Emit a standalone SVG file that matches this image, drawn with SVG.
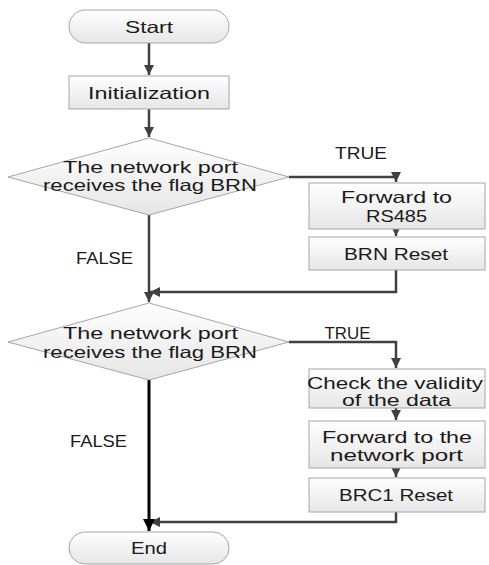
<svg xmlns="http://www.w3.org/2000/svg" width="489" height="565" viewBox="0 0 489 565">
<defs>
<linearGradient id="g" x1="0" y1="0" x2="0" y2="1">
<stop offset="0" stop-color="#ffffff"/>
<stop offset="1" stop-color="#e6e6e6"/>
</linearGradient>
<marker id="ah" viewBox="0 0 10 10" refX="10" refY="5" markerWidth="4" markerHeight="4" orient="auto" markerUnits="strokeWidth">
<path d="M0,0 L10,5 L0,10 z" fill="#404040"/>
</marker>
<marker id="ahk" viewBox="0 0 10 10" refX="10" refY="5" markerWidth="4" markerHeight="4" orient="auto" markerUnits="strokeWidth">
<path d="M0,0 L10,5 L0,10 z" fill="#000"/>
</marker>
</defs>
<style>
.s{fill:url(#g);stroke:#a6a6a6;stroke-width:1}
.t{font-family:"Liberation Sans",Arial,sans-serif;font-size:16.5px;fill:#1a1a1a;text-anchor:middle;dominant-baseline:central}
.c{fill:none;stroke:#404040;stroke-width:2.5}
.k{fill:none;stroke:#000;stroke-width:3}
</style>
<g id="connectors">
<path class="c" d="M149,43 V75" marker-end="url(#ah)"/>
<path class="c" d="M149,109 V137" marker-end="url(#ah)"/>
<path class="c" d="M289,177 H396 V182" marker-end="url(#ah)"/>
<path class="c" d="M396,229 V236" marker-end="url(#ah)"/>
<path class="c" d="M149,215 V302" marker-end="url(#ah)"/>
<path class="c" d="M396,270 V292 H150" marker-end="url(#ah)"/>
<path class="c" d="M289,342 H396 V368" marker-end="url(#ah)"/>
<path class="c" d="M396,408 V420" marker-end="url(#ah)"/>
<path class="c" d="M396,468 V477" marker-end="url(#ah)"/>
<path class="c" d="M396,512 V522 H150" marker-end="url(#ah)"/>
<path class="k" d="M149,380 V531" marker-end="url(#ahk)"/>
<text class="t" x="361" y="153" textLength="52" lengthAdjust="spacingAndGlyphs">TRUE</text>
<text class="t" x="104.5" y="258" textLength="57" lengthAdjust="spacingAndGlyphs">FALSE</text>
<text class="t" x="347.5" y="333" textLength="46" lengthAdjust="spacingAndGlyphs">TRUE</text>
<text class="t" x="98.5" y="441" textLength="57" lengthAdjust="spacingAndGlyphs">FALSE</text>
</g>
<g id="start">
<rect class="s" x="69" y="10" width="160" height="33" rx="16.5"/>
<text class="t" x="149" y="26.5" textLength="48" lengthAdjust="spacingAndGlyphs">Start</text>
</g>
<g id="init">
<rect class="s" x="69" y="76" width="160" height="33"/>
<text class="t" x="149" y="92.5" textLength="122" lengthAdjust="spacingAndGlyphs">Initialization</text>
</g>
<g id="decision1">
<polygon class="s" points="149,138 289,177 149,215 8,177"/>
<text class="t" x="150.5" y="167" textLength="175" lengthAdjust="spacingAndGlyphs">The network port</text>
<text class="t" x="150" y="185" textLength="214" lengthAdjust="spacingAndGlyphs">receives the flag BRN</text>
</g>
<g id="fwd485">
<rect class="s" x="309" y="183" width="176" height="46"/>
<text class="t" x="396.5" y="197" textLength="111" lengthAdjust="spacingAndGlyphs">Forward to</text>
<text class="t" x="396.5" y="216" textLength="61" lengthAdjust="spacingAndGlyphs">RS485</text>
</g>
<g id="brnreset">
<rect class="s" x="309" y="237" width="176" height="33"/>
<text class="t" x="396" y="253.5" textLength="104" lengthAdjust="spacingAndGlyphs">BRN Reset</text>
</g>
<g id="decision2">
<polygon class="s" points="149,303 289,342 149,380 8,342"/>
<text class="t" x="150.5" y="333" textLength="175" lengthAdjust="spacingAndGlyphs">The network port</text>
<text class="t" x="150" y="352" textLength="214" lengthAdjust="spacingAndGlyphs">receives the flag BRN</text>
</g>
<g id="check">
<rect class="s" x="309" y="369" width="176" height="39"/>
<text class="t" x="395" y="383" textLength="176" lengthAdjust="spacingAndGlyphs">Check the validity</text>
<text class="t" x="396.5" y="400" textLength="109" lengthAdjust="spacingAndGlyphs">of the data</text>
</g>
<g id="fwdnet">
<rect class="s" x="309" y="421" width="176" height="47"/>
<text class="t" x="397" y="437" textLength="150" lengthAdjust="spacingAndGlyphs">Forward to the</text>
<text class="t" x="396.5" y="455" textLength="133" lengthAdjust="spacingAndGlyphs">network port</text>
</g>
<g id="brc1reset">
<rect class="s" x="309" y="478" width="176" height="34"/>
<text class="t" x="396" y="495" textLength="114" lengthAdjust="spacingAndGlyphs">BRC1 Reset</text>
</g>
<g id="end">
<rect class="s" x="69" y="532" width="160" height="32" rx="16"/>
<text class="t" x="149" y="548" textLength="36" lengthAdjust="spacingAndGlyphs">End</text>
</g>
</svg>
